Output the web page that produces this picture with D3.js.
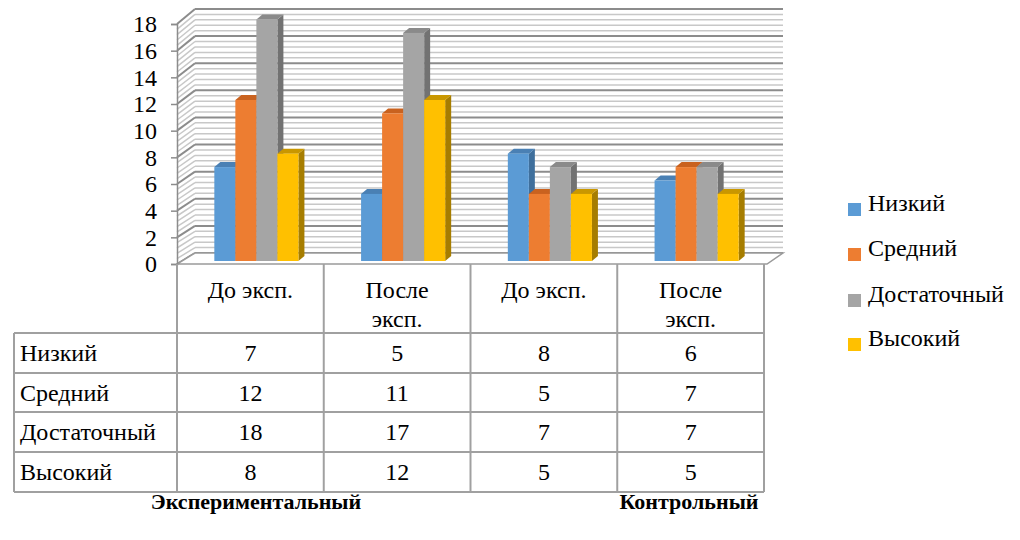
<!DOCTYPE html>
<html>
<head>
<meta charset="utf-8">
<script src="https://cdn.jsdelivr.net/npm/d3@7"></script>
<style>
  body { margin: 0; background: #fff; }
</style>
</head>
<body>
<svg width="1020" height="540"></svg>
<script>
// data
var categories = ["До эксп.", "После эксп.", "До эксп.", "После эксп."];
var headerLines = [["До эксп."], ["После", "эксп."], ["До эксп."], ["После", "эксп."]];
var series = ["Низкий", "Средний", "Достаточный", "Высокий"];
var lowVals = [7, 5, 8, 6];
var midVals = [12, 11, 5, 7];
var enoughVals = [18, 17, 7, 7];
var highVals = [8, 12, 5, 5];
var groupNames = ["Экспериментальный", "Контрольный"];
var yTicks = [0, 2, 4, 6, 8, 10, 12, 14, 16, 18];

var values = [lowVals, midVals, enoughVals, highVals];
var colors = ["#5B9BD5", "#ED7D31", "#A5A5A5", "#FFC000"];
var sideColors = ["#3F6F9C", "#B0561C", "#727272", "#A67D00"];
var topColors = ["#4A80B4", "#C9621F", "#8A8A8A", "#C99700"];

var serif = "'Liberation Serif', 'Times New Roman', Tinos, 'DejaVu Serif', serif";
var svg = d3.select("svg").style("font-family", serif);
var fontSize = 24;

// scales
var x0 = d3.scaleBand().domain(d3.range(categories.length)).range([177, 764]);
var x1 = d3.scaleBand().domain(d3.range(series.length)).range([0, x0.bandwidth()]).paddingOuter(1.49);
var yFront = d3.scaleLinear().domain([0, 18]).range([264, 24]);
var yBar = d3.scaleLinear().domain([0, 18]).range([261, 19.5]);
var yBack = d3.scaleLinear().domain([0, 18]).range([253, 9]);
var backLeft = 195, backRight = 783;
var dx = 6, dy = -5, barShift = 6;

// walls with gridlines
var grid = d3.range(0, 18.001, 0.4).map(function(v){ return Math.round(v * 10) / 10; });
var isMajor = function(v){ return Math.abs(v / 2 - Math.round(v / 2)) < 1e-6; };
var gridOrder = grid.filter(function(v){ return !isMajor(v); }).concat(grid.filter(isMajor));

var gridG = svg.append("g");
gridG.selectAll("line.back")
    .data(gridOrder)
    .enter().append("line")
    .attr("x1", backLeft).attr("x2", backRight)
    .attr("y1", function(d){ return yBack(d); })
    .attr("y2", function(d){ return yBack(d); })
    .attr("stroke", function(d){ return isMajor(d) ? "#8c8c8c" : "#c8c8c8"; })
    .attr("stroke-width", function(d){ return isMajor(d) ? 2 : 1.5; });

gridG.selectAll("line.side")
    .data(gridOrder)
    .enter().append("line")
    .attr("x1", x0.range()[0]).attr("x2", backLeft)
    .attr("y1", function(d){ return yFront(d); })
    .attr("y2", function(d){ return yBack(d); })
    .attr("stroke", function(d){ return isMajor(d) ? "#8c8c8c" : "#c8c8c8"; })
    .attr("stroke-width", function(d){ return isMajor(d) ? 2 : 1.5; });

// floor
var fx0 = x0.range()[0], fx1 = x0.range()[1] + 3;
svg.append("path")
    .attr("d", "M" + fx0 + "," + yFront(0) + "L" + fx1 + "," + yFront(0) +
         "L" + backRight + "," + yBack(0) + "L" + backLeft + "," + yBack(0) + "Z")
    .attr("fill", "#fff")
    .attr("stroke", "#9a9a9a")
    .attr("stroke-width", 1.5);

// y axis
var yAxis = d3.axisLeft(yFront).tickValues(yTicks).tickSize(6).tickPadding(14);
var axG = svg.append("g").attr("transform", "translate(" + fx0 + ",0)").call(yAxis)
    .attr("font-family", serif).attr("font-size", fontSize);
axG.select(".domain").attr("stroke", "#8c8c8c").attr("stroke-width", 1.5);
axG.selectAll(".tick line").attr("stroke", "#8c8c8c").attr("stroke-width", 1.5);
axG.selectAll(".tick text").attr("fill", "#000");

// bars (3d)
var barsG = svg.append("g");
categories.forEach(function(c, ci){
    series.forEach(function(s, si){
        var v = values[si][ci];
        var x = x0(ci) + x1(si) + barShift;
        var w = x1.bandwidth();
        var yt = yBar(v), yb = yBar(0);
        var g = barsG.append("g");
        // side
        g.append("path")
            .attr("d", "M" + (x + w) + "," + yt + "L" + (x + w + dx) + "," + (yt + dy) +
                 "L" + (x + w + dx) + "," + (yb + dy) + "L" + (x + w) + "," + yb + "Z")
            .attr("fill", sideColors[si]);
        // top
        g.append("path")
            .attr("d", "M" + x + "," + yt + "L" + (x + dx) + "," + (yt + dy) +
                 "L" + (x + w + dx) + "," + (yt + dy) + "L" + (x + w) + "," + yt + "Z")
            .attr("fill", topColors[si]);
        // front
        g.append("rect")
            .attr("x", x).attr("y", yt)
            .attr("width", w).attr("height", yb - yt)
            .attr("fill", colors[si]);
    });
});

// data table
var rowTops = [333, 373, 412, 452, 492];
var tableLeft = 14;
var tableG = svg.append("g").attr("stroke", "#a0a0a0").attr("stroke-width", 2);
d3.range(categories.length + 1).forEach(function(i){
    var xx = i < categories.length ? x0(i) : x0.range()[1];
    tableG.append("line").attr("x1", xx).attr("x2", xx)
        .attr("y1", yFront(0)).attr("y2", rowTops[rowTops.length - 1]);
});
tableG.append("line").attr("x1", tableLeft).attr("x2", tableLeft)
    .attr("y1", rowTops[0]).attr("y2", rowTops[rowTops.length - 1]);
rowTops.forEach(function(yy){
    tableG.append("line").attr("x1", tableLeft).attr("x2", x0.range()[1])
        .attr("y1", yy).attr("y2", yy);
});

// header labels
headerLines.forEach(function(lines, ci){
    lines.forEach(function(t, li){
        svg.append("text")
            .attr("x", x0(ci) + x0.bandwidth() / 2)
            .attr("y", 298 + li * 29)
            .attr("text-anchor", "middle")
            .attr("font-size", fontSize)
            .text(t);
    });
});

// rows
series.forEach(function(s, si){
    var base = (rowTops[si] + rowTops[si + 1]) / 2 + 8;
    svg.append("text").attr("x", tableLeft + 6).attr("y", base)
        .attr("font-size", fontSize).text(s);
    values[si].forEach(function(v, ci){
        svg.append("text")
            .attr("x", x0(ci) + x0.bandwidth() / 2)
            .attr("y", base)
            .attr("text-anchor", "middle")
            .attr("font-size", fontSize)
            .text(v);
    });
});

// legend
var legendY = [203, 248, 294, 338];
var legend = svg.selectAll("g.legend").data(series).enter().append("g")
    .attr("transform", function(d, i){ return "translate(848," + legendY[i] + ")"; });
legend.append("rect").attr("x", 0).attr("y", 0).attr("width", 13).attr("height", 13)
    .attr("fill", function(d, i){ return colors[i]; });
legend.append("text").attr("x", 20).attr("y", 8)
    .attr("font-size", fontSize).text(function(d){ return d; });

// group labels under the table
var groupX = [256, 689];
svg.selectAll("text.grp").data(groupNames).enter().append("text")
    .attr("x", function(d, i){ return groupX[i]; })
    .attr("y", 509)
    .attr("text-anchor", "middle")
    .attr("font-size", 22)
    .attr("font-weight", "bold")
    .text(function(d){ return d; });
</script>
</body>
</html>
